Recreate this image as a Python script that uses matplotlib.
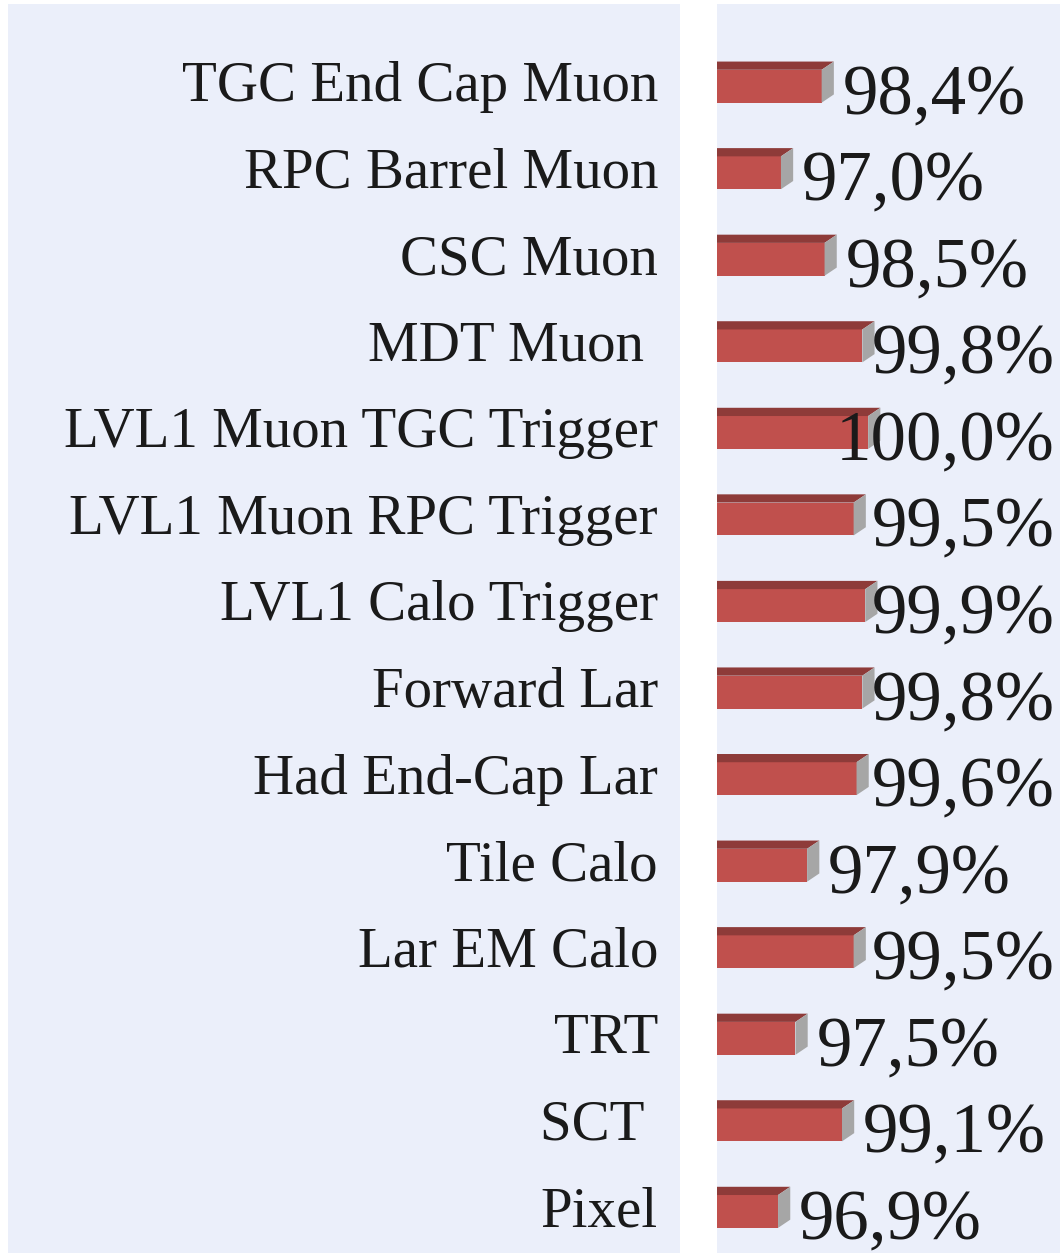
import matplotlib
matplotlib.use("Agg")
import matplotlib.pyplot as plt
from matplotlib.patches import Polygon

categories = ["TGC End Cap Muon", "RPC Barrel Muon", "CSC Muon", "MDT Muon ",
              "LVL1 Muon TGC Trigger", "LVL1 Muon RPC Trigger", "LVL1 Calo Trigger",
              "Forward Lar", "Had End-Cap Lar", "Tile Calo", "Lar EM Calo",
              "TRT", "SCT ", "Pixel"]
values = [98.4, 97.0, 98.5, 99.8, 100.0, 99.5, 99.9, 99.8, 99.6, 97.9, 99.5, 97.5, 99.1, 96.9]
value_labels = ["98,4%", "97,0%", "98,5%", "99,8%", "100,0%", "99,5%", "99,9%",
                "99,8%", "99,6%", "97,9%", "99,5%", "97,5%", "99,1%", "96,9%"]

bg = "#EBEFFA"
red = "#C0504D"
dark = "#8E3B39"
grey = "#A6A6A6"

W, H = 1060, 1257
fig = plt.figure(figsize=(W / 100, H / 100), dpi=100)

# left panel with the names
ax_lab = fig.add_axes([8 / W, 1 - 1253 / H, (680 - 8) / W, (1253 - 4) / H])
ax = fig.add_axes([717 / W, 1 - 1253 / H, (1060 - 717) / W, (1253 - 4) / H])

for a in (ax_lab, ax):
    a.set_facecolor(bg)
    for s in a.spines.values():
        s.set_visible(False)
    a.set_xticks([])
    a.set_yticks([])
    a.set_ylim(13.53, -0.9)

ax_lab.set_xlim(0, 1)
ax.set_xlim(94.8, 106.6)

font = "Liberation Serif"
for i, c in enumerate(categories):
    ax_lab.text(650 / 672, i + 0.06, c, ha="right", va="center", fontsize=41,
                family=font, color="#1a1a1a")

# 3D-ish bars: front face, dark top, grey side
h = 0.38
dy = 0.095
dx = 0.42
x0 = ax.get_xlim()[0]
for i, v in enumerate(values):
    yc = i + 0.05
    top = yc - h / 2
    bot = yc + h / 2
    ax.barh(yc, v - x0, left=x0, height=h, color=red, edgecolor="none")
    ax.add_patch(Polygon([(x0, top), (v, top), (v + dx, top - dy), (x0, top - dy)],
                         closed=True, facecolor=dark, edgecolor="none"))
    ax.add_patch(Polygon([(v, top), (v + dx, top - dy), (v + dx, bot - dy), (v, bot)],
                         closed=True, facecolor=grey, edgecolor="none"))

fig.canvas.draw()
r = fig.canvas.get_renderer()
limit_px = fig.transFigure.transform((1055 / W, 0))[0]
for i, (v, lab) in enumerate(zip(values, value_labels)):
    t = ax.text(v + dx + 0.3, i + 0.17, lab, ha="left", va="center", fontsize=51,
                family=font, color="#1a1a1a")
    bb = t.get_window_extent(r)
    if bb.x1 > limit_px:
        xr = ax.transData.inverted().transform((limit_px, 0))[0]
        t.set_x(xr)
        t.set_ha("right")

fig.savefig("out.png", dpi=100)
